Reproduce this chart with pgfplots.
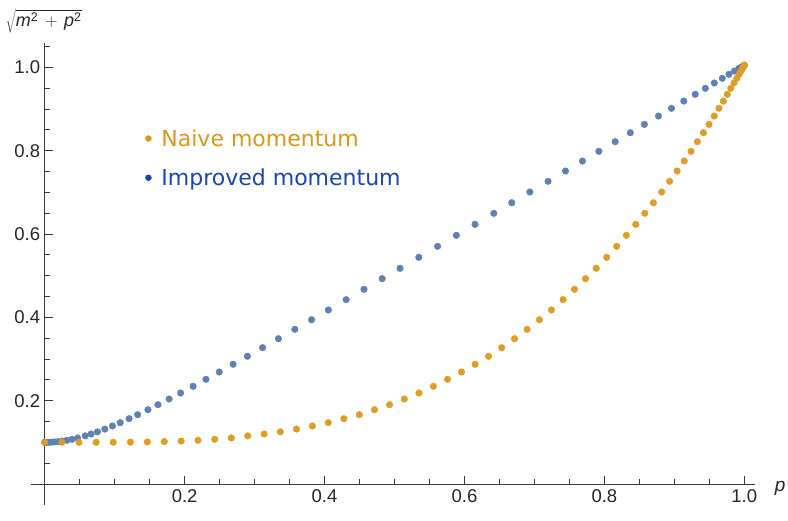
\documentclass[border=0pt]{standalone}
\usepackage{fontspec}
\setmainfont{Liberation Sans}
\newfontfamily\legfont{DejaVu Sans}
\usepackage{pgfplots}
\usepackage{pgfplotstable}
\pgfplotsset{compat=1.18}
\definecolor{cB}{RGB}{94,129,181}
\definecolor{cO}{RGB}{225,156,36}
\definecolor{legO}{RGB}{218,152,22}
\definecolor{legB}{RGB}{22,72,176}
\definecolor{axc}{RGB}{60,60,60}
\pgfplotstableread{
xn xi E
0.000000 0.0000 0.1000
0.024541 0.0004 0.1000
0.049068 0.0016 0.1000
0.073565 0.0036 0.1001
0.098017 0.0063 0.1002
0.122411 0.0099 0.1005
0.146730 0.0142 0.1010
0.170962 0.0193 0.1018
0.195090 0.0251 0.1031
0.219101 0.0317 0.1049
0.242980 0.0390 0.1073
0.266713 0.0470 0.1105
0.290285 0.0578 0.1155
0.313682 0.0663 0.1200
0.336890 0.0754 0.1252
0.359895 0.0859 0.1318
0.382683 0.0968 0.1392
0.405241 0.1079 0.1471
0.427555 0.1206 0.1567
0.449611 0.1329 0.1663
0.471397 0.1476 0.1783
0.492898 0.1619 0.1903
0.514103 0.1778 0.2040
0.534998 0.1942 0.2184
0.555570 0.2121 0.2345
0.575808 0.2305 0.2513
0.595699 0.2495 0.2688
0.615232 0.2693 0.2873
0.634393 0.2897 0.3065
0.653173 0.3115 0.3272
0.671559 0.3341 0.3487
0.689541 0.3575 0.3712
0.707107 0.3814 0.3943
0.724247 0.4054 0.4176
0.740951 0.4309 0.4423
0.757209 0.4564 0.4672
0.773010 0.4824 0.4927
0.788346 0.5079 0.5176
0.803208 0.5347 0.5440
0.817585 0.5616 0.5704
0.831470 0.5884 0.5968
0.844854 0.6151 0.6232
0.857729 0.6419 0.6496
0.870087 0.6676 0.6750
0.881921 0.6935 0.7007
0.893224 0.7195 0.7264
0.903989 0.7444 0.7511
0.914210 0.7686 0.7751
0.923880 0.7921 0.7984
0.932993 0.8154 0.8215
0.941544 0.8370 0.8430
0.949528 0.8572 0.8630
0.956940 0.8773 0.8830
0.963776 0.8959 0.9015
0.970031 0.9135 0.9190
0.975702 0.9298 0.9352
0.980785 0.9443 0.9496
0.985278 0.9571 0.9623
0.989177 0.9685 0.9736
0.992480 0.9781 0.9832
0.995185 0.9859 0.9910
0.997290 0.9921 0.9971
0.998795 0.9965 1.0015
0.999699 0.9991 1.0041
1.000000 1.0000 1.0050
}\data
\begin{document}
\begin{tikzpicture}[x=1pt,y=1pt]
\useasboundingbox (-44.7,-36) rectangle (743.3,484);
\begin{axis}[
  at={(0,0)}, anchor=origin,
  scale only axis, width=724.1pt, height=461.7pt,
  xmin=-0.02, xmax=1.015, ymin=-0.05, ymax=1.058,
  axis lines=middle,
  axis line style={-, axc, line width=0.8pt},
  every tick/.style={axc, line width=0.8pt},
  tick align=inside,
  major tick length=8.5pt, minor tick length=5pt,
  xtick={0,0.2,0.4,0.6,0.8,1.0},
  xticklabels={,0.2,0.4,0.6,0.8,1.0},
  ytick={0,0.2,0.4,0.6,0.8,1.0},
  yticklabels={,0.2,0.4,0.6,0.8,1.0},
  minor xtick={0.05,0.1,...,1.0},
  minor ytick={0.05,0.1,...,1.05},
  /pgf/number format/assume math mode=true,
  ticklabel style={font=\fontsize{18.5}{20}\selectfont, text=black!85},
  xticklabel style={anchor=north, yshift=-2pt},
  yticklabel style={anchor=east, xshift=-1pt},
  clip=false,
  legend style={at={(axis cs:0.1394,0.782)}, anchor=west, draw=none, fill=none,
    font=\legfont\fontsize{22}{26}\selectfont, row sep=17pt,
    /tikz/every odd column/.append style={column sep=8pt}},
  legend cell align=left,
]
\addplot[only marks, mark=*, mark size=3.3pt, color=cB, mark options={draw=none, fill=cB}, forget plot] table[x=xi, y=E]{\data};
\addplot[only marks, mark=*, mark size=3.3pt, color=cO, mark options={draw=none, fill=cO}, forget plot] table[x=xn, y=E]{\data};
\addlegendimage{only marks, mark=*, mark size=3pt, color=legO, mark options={draw=none, fill=legO}}
\addlegendentry[text=legO]{Naive momentum}
\addlegendimage{only marks, mark=*, mark size=3pt, color=legB, mark options={draw=none, fill=legB}}
\addlegendentry[text=legB]{Improved momentum}
\end{axis}
\node[anchor=base west, inner sep=0pt, text=black!85] at (-39,457) {\fontsize{18}{20}\selectfont$\sqrt{\textit{m}^{\mbox{\fontsize{12.5}{13}\selectfont 2}}\,+\,\textit{p}^{\mbox{\fontsize{12.5}{13}\selectfont 2}}}$};
\node[anchor=center, inner sep=0pt, text=black!85] at (735.5,-4) {\fontsize{19}{20}\selectfont\textit{p}};
\end{tikzpicture}
\end{document}
